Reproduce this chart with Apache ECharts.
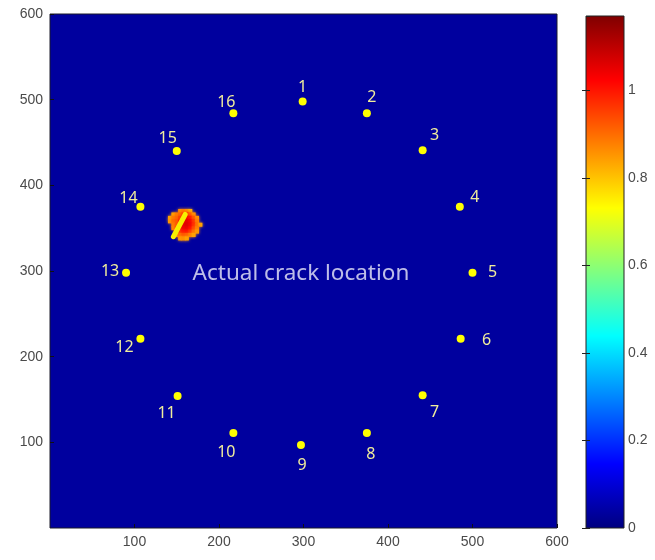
<!DOCTYPE html>
<html>
<head>
<meta charset="utf-8">
<script src="https://cdn.jsdelivr.net/npm/echarts@6/dist/echarts.min.js"></script>
<style>
html,body{margin:0;padding:0;background:#fff;}
#chart{width:655px;height:560px;}
</style>
</head>
<body>
<div id="chart"></div>
<script>
// ---------------- data ----------------
const axisTicks = [100, 200, 300, 400, 500, 600];
const colorbarTicks = [0, 0.2, 0.4, 0.6, 0.8, 1];
const colorMax = 1.17;

const sensorIds = ['1','2','3','4','5','6','7','8','9','10','11','12','13','14','15','16'];
const sensorX = [299, 375, 441, 485, 500, 486, 441, 375, 297, 217, 151, 107, 90, 107, 150, 217];
const sensorY = [498, 484, 441, 375, 298, 221, 155, 111, 97, 111, 154, 221, 298, 375, 440, 484];

// damage index cells near the crack (4-unit cells, left/bottom corners)
const crackCellX = [140, 144, 148, 152, 156, 160, 164, 168, 172, 176];
const crackCellY = [368, 364, 360, 356, 352, 348, 344, 340, 336];
const crackValues = [
  [0,    0,    0,    0.86, 0.88, 0.86, 0.82, 0,    0,    0   ],
  [0,    0.84, 0.88, 0.90, 0.95, 0.97, 0.92, 0.86, 0,    0   ],
  [0.84, 0.88, 0.90, 0.95, 1.00, 1.02, 1.00, 0.93, 0.86, 0   ],
  [0.85, 0.90, 0.92, 0.98, 1.03, 1.05, 1.03, 0.97, 0.88, 0   ],
  [0,    0.88, 0.92, 1.00, 1.05, 1.06, 1.04, 0.98, 0.90, 0.84],
  [0,    0.87, 0.93, 1.00, 1.04, 1.05, 1.02, 0.95, 0.88, 0   ],
  [0,    0,    0.90, 0.97, 1.00, 1.01, 0.97, 0.90, 0.85, 0   ],
  [0,    0,    0.86, 0.90, 0.93, 0.92, 0.88, 0.84, 0,    0   ],
  [0,    0,    0,    0.85, 0.86, 0.84, 0,    0,    0,    0   ]
];

// actual crack segment
const crackLineX = [146, 160];
const crackLineY = [340, 366];

const annotationText = 'Actual crack location';
const annotationX = [297];
const annotationY = [297];

// ---------------- styling ----------------
const labelOffsets = [[0,-14],[5,-16],[12,-15],[15,-9],[20,0],[26,2],[12,17],[4,22],[1,21],[-7,20],[-11,17],[-16,9],[-16,-1],[-12,-8],[-9,-13],[-7,-11]];
const jet = ['#000080','#0000ff','#0080ff','#00ffff','#80ff80','#ffff00','#ff8000','#ff0000','#800000'];

const crackData = [];
crackValues.forEach((row, r) => row.forEach((v, c) => {
  if (v > 0) crackData.push([crackCellX[c], crackCellY[r], v]);
}));

const sensorData = sensorIds.map((id, i) => ({
  value: [sensorX[i], sensorY[i]],
  name: id,
  label: { offset: labelOffsets[i] }
}));

const chart = echarts.init(document.getElementById('chart'), null, {renderer: 'canvas'});

const axisLabelStyle = { color: '#4a4a4a', fontSize: 14, fontFamily: 'Liberation Sans, Arial, sans-serif' };

const gradStops = jet.map((c, i) => ({ offset: 1 - i / (jet.length - 1), color: c }));

chart.setOption({
  animation: false,
  backgroundColor: '#ffffff',
  grid: [
    { left: 50, right: 98, top: 14, bottom: 32, show: true, backgroundColor: '#00009e', borderColor: '#1a1a2a', borderWidth: 1 },
    { left: 586, right: 31, top: 16, bottom: 32, show: true, backgroundColor: 'transparent', borderColor: '#222', borderWidth: 1 }
  ],
  visualMap: {
    show: false, type: 'continuous', min: 0, max: colorMax, dimension: 2, seriesIndex: 0,
    inRange: { color: jet }
  },
  xAxis: [
    { gridIndex: 0, type: 'value', min: 0, max: 600, interval: 100,
      axisLine: { show: false }, splitLine: { show: false },
      axisTick: { show: true, inside: true, length: 4, lineStyle: { color: '#111' } },
      axisLabel: Object.assign({ showMinLabel: false, margin: 7, formatter: v => axisTicks.includes(v) ? String(v) : '' }, axisLabelStyle), z: 10 },
    { gridIndex: 1, type: 'value', min: 0, max: 1, show: false }
  ],
  yAxis: [
    { gridIndex: 0, type: 'value', min: 0, max: 600, interval: 100,
      axisLine: { show: false }, splitLine: { show: false },
      axisTick: { show: true, inside: true, length: 4, lineStyle: { color: '#111' } },
      axisLabel: Object.assign({ showMinLabel: false, margin: 7, formatter: v => axisTicks.includes(v) ? String(v) : '' }, axisLabelStyle), z: 10 },
    { gridIndex: 1, type: 'value', min: 0, max: colorMax, interval: 0.2, position: 'right',
      axisLine: { show: false }, splitLine: { show: false },
      axisTick: { show: true, inside: true, length: 4, lineStyle: { color: '#222' } },
      axisLabel: Object.assign({ showMaxLabel: false, margin: 4, formatter: v => {
        const t = colorbarTicks.find(x => Math.abs(x - v) < 1e-6);
        return t === undefined ? '' : String(t);
      } }, axisLabelStyle), z: 10 },
    { gridIndex: 1, type: 'value', min: 0, max: colorMax, interval: 0.2, position: 'left',
      axisLine: { show: false }, splitLine: { show: false },
      axisTick: { show: true, inside: true, length: 4, lineStyle: { color: '#222' } },
      axisLabel: { show: false }, z: 10 }
  ],
  graphic: [{
    type: 'rect', z: -1,
    shape: { x: 586, y: 16, width: 38, height: 512 },
    style: { fill: new echarts.graphic.LinearGradient(0, 0, 0, 1, gradStops) }
  }],
  series: [
    {
      type: 'custom', xAxisIndex: 0, yAxisIndex: 0, data: crackData,
      renderItem: function (params, api) {
        const p = api.coord([api.value(0), api.value(1)]);
        const s = api.size([4, 4]);
        const c = api.visual('color');
        return { type: 'rect', shape: { x: p[0] - 0.3, y: p[1] - s[1] - 0.3, width: s[0] + 0.6, height: s[1] + 0.6 },
          style: { fill: c, shadowBlur: 3, shadowColor: c } };
      }
    },
    {
      type: 'line', xAxisIndex: 0, yAxisIndex: 0,
      data: crackLineX.map((x, i) => [x, crackLineY[i]]),
      symbol: 'none', lineStyle: { color: '#f6f000', width: 5, cap: 'round' }, z: 4
    },
    {
      type: 'scatter', xAxisIndex: 0, yAxisIndex: 0, data: sensorData,
      symbol: 'circle', symbolSize: 8, itemStyle: { color: '#ffff00', opacity: 1 }, z: 5,
      label: { show: true, position: 'inside', formatter: p => p.name, color: '#f0ed9c',
        fontSize: 16, fontFamily: 'Noto Sans, Open Sans, sans-serif', align: 'center', verticalAlign: 'middle' }
    },
    {
      type: 'scatter', xAxisIndex: 0, yAxisIndex: 0,
      data: annotationX.map((x, i) => [x, annotationY[i]]),
      symbolSize: 0, silent: true, z: 6,
      label: { show: true, position: 'inside', formatter: annotationText, color: '#ececfa',
        fontSize: 22.5, fontFamily: 'Noto Sans, Open Sans, sans-serif' }
    }
  ]
});
</script>
</body>
</html>
